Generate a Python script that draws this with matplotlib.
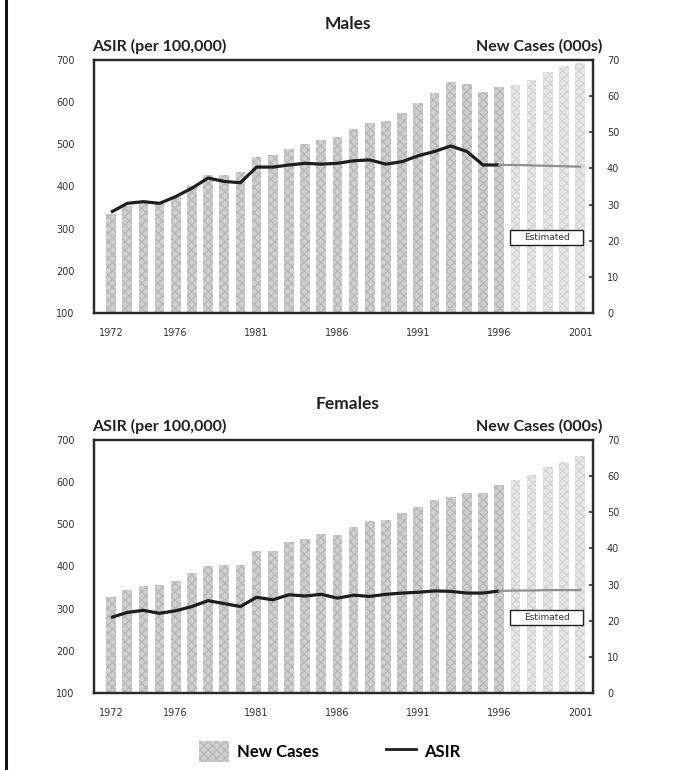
import matplotlib.pyplot as plt
from matplotlib.patches import Rectangle, Patch
from matplotlib.lines import Line2D

# Years shown on the x axis
years = list(range(1972, 2002))
tick_years = [1972, 1976, 1981, 1986, 1991, 1996, 2001]
last_actual = 1996

# New cases (thousands), right axis
males_cases = [27.4, 29.5, 30.5, 30.3, 32.2, 35.1, 38.2, 38.2, 38.9, 43.1,
               43.6, 45.5, 46.8, 47.8, 48.7, 50.8, 52.5, 53.1, 55.3, 58.2,
               61.0, 64.0, 63.4, 61.2, 62.6, 63.0, 64.5, 66.8, 68.3, 69.3]
females_cases = [26.6, 28.4, 29.5, 29.8, 31.0, 33.1, 35.2, 35.4, 35.4, 39.4,
                 39.2, 41.9, 42.6, 44.0, 43.7, 45.8, 47.7, 47.9, 49.9, 51.4,
                 53.4, 54.3, 55.4, 55.4, 57.6, 58.8, 60.3, 62.4, 64.0, 65.6]

# ASIR per 100,000, left axis (1972-1996 observed, 1996-2001 estimated)
males_asir = [339, 360, 364, 360, 376, 396, 420, 412, 409, 446, 446, 451, 455,
              453, 455, 461, 463, 453, 459, 473, 483, 496, 483, 451, 451]
males_asir_est = [451, 451, 450, 449, 448, 447]
females_asir = [279, 291, 296, 289, 295, 305, 319, 312, 305, 327, 321, 333, 330,
                334, 325, 332, 329, 334, 337, 339, 342, 341, 337, 337, 342]
females_asir_est = [342, 343, 343, 344, 344, 344]

title_font = 'Lato'
tick_font = ['Liberation Sans Narrow', 'DejaVu Sans']
plt.rcParams['hatch.linewidth'] = 0.9

fig = plt.figure(figsize=(6.73, 7.7), dpi=100)


def draw_panel(bottom, title, cases, asir, asir_est):
    ax = fig.add_axes([0.1397, bottom, 0.7415, 0.3286])
    ax2 = ax.twinx()
    ax.set_zorder(ax2.get_zorder() + 1)
    ax.patch.set_visible(False)

    for yr, val in zip(years, cases):
        est = yr > last_actual
        ax2.bar(yr, val, width=0.6,
                color='#e6e6e6' if est else '#d0d0d0',
                edgecolor='#d2d2d2' if est else '#b6b6b6',
                hatch='xxxx', linewidth=0)

    n = len(asir)
    ax.plot(years[:n], asir, color='#1e1e1e', linewidth=2.3, solid_capstyle='butt')
    ax.plot(years[n - 1:], asir_est, color='#8f8f8f', linewidth=1.6)

    ax.set_xlim(1970.95, 2001.8)
    ax.set_ylim(100, 700)
    ax2.set_ylim(0, 70)
    ax.set_yticks(range(100, 701, 100))
    ax2.set_yticks(range(0, 71, 10))
    ax.set_xticks(tick_years)
    ax.set_xticklabels([str(y) for y in tick_years])

    for a in (ax, ax2):
        for sp in a.spines.values():
            sp.set_linewidth(1.6)
            sp.set_color('#2a2a2a')
    ax.tick_params(axis='y', length=0, pad=14, labelsize=7, colors='#333333')
    ax.tick_params(axis='x', length=0, pad=11, labelsize=7, colors='#333333')
    ax2.tick_params(axis='y', direction='in', length=3, width=1.2, pad=10,
                    labelsize=7, colors='#333333')
    for lbl in ax.get_yticklabels() + ax.get_xticklabels() + ax2.get_yticklabels():
        lbl.set_family(tick_font)

    # "Estimated" box
    ax2.add_patch(Rectangle((1996.65, 18.9), 4.55, 4.1, facecolor='white',
                            edgecolor='#222222', linewidth=1.0, zorder=5))
    ax2.text(1998.93, 20.95, 'Estimated', ha='center', va='center', fontsize=6.5,
             family=tick_font, color='#333333', zorder=6)

    top = bottom + 0.3286
    fig.text(0.517, top + 0.047, title, ha='center', va='center', fontsize=12.5,
             fontweight='bold', family=title_font, color='#222222')
    fig.text(0.137, top + 0.018, 'ASIR (per 100,000)', ha='left', va='center',
             fontsize=11.5, fontweight='bold', family=title_font, color='#222222')
    fig.text(0.895, top + 0.018, 'New Cases (000s)', ha='right', va='center',
             fontsize=11.5, fontweight='bold', family=title_font, color='#222222')


draw_panel(0.5935, 'Males', males_cases, males_asir, males_asir_est)
draw_panel(0.1000, 'Females', females_cases, females_asir, females_asir_est)

# Legend at the bottom
handles = [Patch(facecolor='#d0d0d0', edgecolor='#b6b6b6', hatch='xxxx', linewidth=0),
           Line2D([0], [0], color='#1e1e1e', linewidth=2)]
fig.legend(handles, ['New Cases', 'ASIR'], loc='center', bbox_to_anchor=(0.49, 0.024),
           ncol=2, frameon=False, handlelength=1.8, handleheight=1.6,
           handletextpad=0.5, columnspacing=4.0,
           prop={'family': title_font, 'weight': 'bold', 'size': 12})

# Left border line of the page
fig.add_artist(Line2D([0.009, 0.009], [0, 1], color='#111111', linewidth=2.2))

plt.savefig('out.png', dpi=100)
